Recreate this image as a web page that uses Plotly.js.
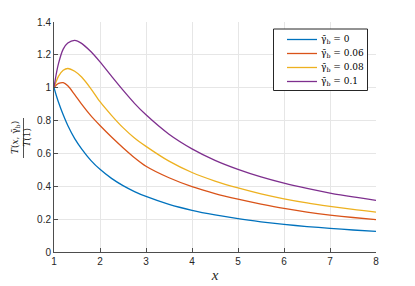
<!DOCTYPE html>
<html>
<head>
<meta charset="utf-8">
<script src="https://cdn.plot.ly/plotly-3.0.1.min.js"></script>
<style>html,body{margin:0;padding:0;background:#fff;}#chart{width:415px;height:286px;}</style>
</head>
<body>
<div id="chart"></div>
<script>
const xValues = [1, 1.05, 1.1, 1.2, 1.3, 1.45, 1.6, 1.8, 2, 2.25, 2.5, 2.75, 3, 3.5, 4, 4.5, 5, 5.5, 6, 6.5, 7, 7.5, 8];
const gamma0 = [1, 0.953, 0.91, 0.835, 0.77, 0.69, 0.628, 0.558, 0.503, 0.448, 0.404, 0.368, 0.338, 0.29, 0.254, 0.226, 0.203, 0.184, 0.168, 0.155, 0.144, 0.134, 0.126];
const gamma006 = [1, 1.016, 1.026, 1.031, 1.012, 0.958, 0.9, 0.83, 0.77, 0.70, 0.635, 0.574, 0.522, 0.452, 0.398, 0.356, 0.322, 0.292, 0.265, 0.243, 0.225, 0.21, 0.197];
const gamma008 = [1, 1.04, 1.07, 1.106, 1.117, 1.10, 1.065, 0.995, 0.915, 0.832, 0.757, 0.694, 0.643, 0.553, 0.484, 0.432, 0.39, 0.354, 0.324, 0.299, 0.278, 0.259, 0.243];
const gamma01 = [1, 1.085, 1.15, 1.235, 1.272, 1.288, 1.27, 1.22, 1.157, 1.07, 0.985, 0.905, 0.835, 0.717, 0.628, 0.558, 0.503, 0.457, 0.419, 0.387, 0.359, 0.335, 0.314];
const seriesNames = ['γ̄<sub>b</sub> = 0', 'γ̄<sub>b</sub> = 0.06', 'γ̄<sub>b</sub> = 0.08', 'γ̄<sub>b</sub> = 0.1'];
const seriesColors = ['#0072BD', '#D95319', '#EDB120', '#7E2F8E'];
const seriesData = [gamma0, gamma006, gamma008, gamma01];
const xTicks = [1, 2, 3, 4, 5, 6, 7, 8];
const yTicks = [0, 0.2, 0.4, 0.6, 0.8, 1, 1.2, 1.4];
const yLabelText = '<i>T</i>(<i>x</i>, γ̄<sub>b</sub>)<br><i>T</i>(1)';

const traces = seriesData.map((ys, i) => ({
  x: xValues, y: ys, type: 'scatter', mode: 'lines', name: seriesNames[i],
  showlegend: false,
  line: {color: seriesColors[i], width: 1.3, shape: 'spline', smoothing: 0.8}
}));

const axisCommon = {
  showline: true, linecolor: '#4d4d4d', linewidth: 1,
  ticks: 'inside', ticklen: 4, tickcolor: '#4d4d4d', tickwidth: 1,
  showgrid: true, gridcolor: '#e6e6e6', gridwidth: 1,
  zeroline: false, mirror: false,
  tickfont: {family: 'Liberation Sans, Arial, sans-serif', size: 10, color: '#262626'}
};

const serif = 'Liberation Serif, Times New Roman, serif';
const mathFont = 'DejaVu Serif, serif';

// plot-area geometry (pixels) for placing the legend box and label
const W = 415, H = 286, ML = 54, MR = 39, MT = 22, MB = 34;
const PW = W - ML - MR, PH = H - MT - MB;
const px = x => (x - ML) / PW;
const py = y => (H - MB - y) / PH;

const shapes = [{
  type: 'line', xref: 'paper', yref: 'paper',
  x0: px(23.5), x1: px(23.5), y0: py(158), y1: py(118),
  line: {color: '#262626', width: 0.8}
}, {
  type: 'rect', xref: 'paper', yref: 'paper',
  x0: px(273.5), x1: px(367.5), y0: py(29), y1: py(90.5),
  fillcolor: '#fff', line: {color: '#262626', width: 1}, layer: 'above'
}];
const annotations = [{
  xref: 'paper', yref: 'paper', x: px(21.1), y: py(138),
  xanchor: 'center', yanchor: 'middle', textangle: -90, showarrow: false,
  text: yLabelText,
  font: {family: mathFont, size: 9, color: '#262626'}
}];
const legendY = [39.5, 53.5, 67.5, 81.5];
seriesNames.forEach((name, i) => {
  shapes.push({
    type: 'line', xref: 'paper', yref: 'paper',
    x0: px(287), x1: px(317), y0: py(legendY[i]), y1: py(legendY[i]),
    line: {color: seriesColors[i], width: 1.3}, layer: 'above'
  });
  annotations.push({
    xref: 'paper', yref: 'paper', x: px(319), y: py(legendY[i]),
    xanchor: 'left', yanchor: 'middle', showarrow: false,
    text: name, font: {family: mathFont, size: 9, color: '#000'}
  });
});

const layout = {
  width: W, height: H,
  margin: {l: ML, r: MR, t: MT, b: MB},
  paper_bgcolor: '#fff', plot_bgcolor: '#fff',
  showlegend: false,
  xaxis: Object.assign({}, axisCommon, {
    range: [1, 8], tickvals: xTicks, ticktext: xTicks.map(String),
    title: {text: '<i>x</i>', font: {family: serif, size: 15, color: '#262626'}, standoff: 3}
  }),
  yaxis: Object.assign({}, axisCommon, {
    range: [0, 1.4], tickvals: yTicks, ticktext: yTicks.map(String)
  }),
  shapes: shapes,
  annotations: annotations
};

Plotly.newPlot('chart', traces, layout, {displayModeBar: false, staticPlot: true});
</script>
</body>
</html>
